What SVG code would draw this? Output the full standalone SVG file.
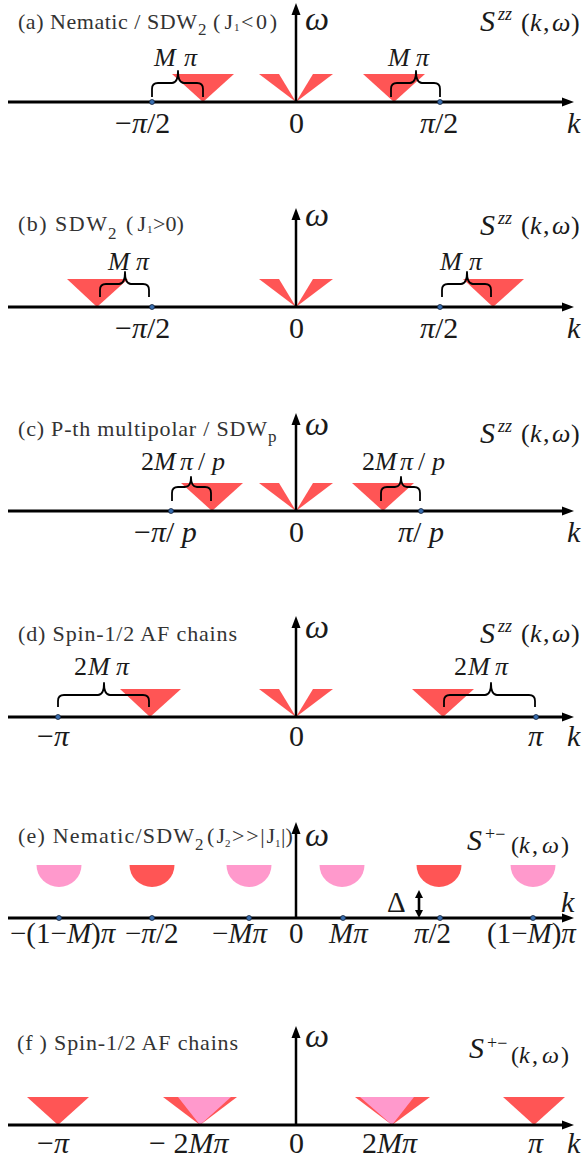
<svg xmlns="http://www.w3.org/2000/svg" width="583" height="1158" viewBox="0 0 583 1158">
<style>
.ax{stroke:#000;stroke-width:2.8;fill:none}
.vx{stroke:#000;stroke-width:2.5;fill:none}
.r{fill:#ff5555}
.p{fill:#ff99cc}
.dot{fill:#3a6fb0;stroke:#10203a;stroke-width:0.8}
.br{fill:none;stroke:#000;stroke-width:1.8;stroke-linejoin:round}
text{font-family:"Liberation Serif","Times New Roman",serif;fill:#1a1a1a}
.ti{font-size:22px;fill:#333}
.sb{font-size:17px;fill:#333}
.sb2{font-size:11px;fill:#333}
.i{font-style:italic}
.w{font-size:34px;font-style:italic}
.S{font-size:30px;font-style:italic}
.sup{font-size:18px;font-style:italic}
.pm{font-size:18px}
.kw{font-size:26px}
.kw2{font-size:24px}
.lab{font-size:26px}
.tk{font-size:30px}
.tk2{font-size:29px}
</style>
<defs>
<marker id="arr" viewBox="0 0 12 10" markerWidth="12" markerHeight="10" refX="3" refY="5" orient="auto" markerUnits="userSpaceOnUse"><path d="M0,0.5 L12,5 L0,9.5 Z" fill="#000"/></marker>
<marker id="arr2" viewBox="0 0 8 8" markerWidth="8" markerHeight="8" refX="2" refY="4" orient="auto-start-reverse" markerUnits="userSpaceOnUse"><path d="M0,0 L8,4 L0,8 Z" fill="#000"/></marker>
</defs>

<!-- Panel (a) -->
<g id="panel-a">
<polygon class="r" points="259,74 279,74 296,102"/>
<polygon class="r" points="313,74 333,74 296,102"/>
<polygon class="r" points="172,74 234,74 203,102"/>
<polygon class="r" points="363,74 425,74 394,102"/>
<line class="ax" x1="8" y1="102" x2="565" y2="102" marker-end="url(#arr)"/>
<line class="vx" x1="296" y1="102" x2="296" y2="12" marker-end="url(#arr)"/>
<path class="br" d="M152,97 L152,89 Q152,83 158,83 L172,83 Q178,83 178,71 Q178,83 184,83 L197,83 Q203,83 203,89 L203,97"/>
<path class="br" d="M391,97 L391,89 Q391,83 397,83 L410,83 Q416,83 416,71 Q416,83 422,83 L434,83 Q440,83 440,89 L440,97"/>
<circle class="dot" cx="152" cy="102" r="2.5"/>
<circle class="dot" cx="440" cy="102" r="2.5"/>
<text class="ti" x="18" y="29" textLength="179">(a) Nematic / SDW</text>
<text class="sb" x="198" y="35">2</text>
<text class="ti" x="213" y="29" textLength="20">(J</text>
<text class="sb2" x="234" y="31">1</text>
<text class="ti" x="241" y="29" textLength="36">&lt;0)</text>
<text class="w" x="305" y="30">ω</text>
<text class="S" x="480" y="31">S</text>
<text class="sup" x="498" y="20">zz</text>
<text class="kw" y="31"><tspan x="521">(</tspan><tspan x="530" class="i">k</tspan><tspan x="543">,</tspan><tspan x="552" class="i">ω</tspan><tspan x="571">)</tspan></text>
<text class="lab i" y="66"><tspan x="154">M</tspan><tspan x="184">π</tspan></text>
<text class="lab i" y="66"><tspan x="388">M</tspan><tspan x="416">π</tspan></text>
<text class="tk" x="115" y="133">−<tspan class="i">π</tspan>/2</text>
<text class="tk" x="289" y="133">0</text>
<text class="tk" x="420" y="133"><tspan class="i">π</tspan>/2</text>
<text class="tk i" x="567" y="133">k</text>
</g>

<!-- Panel (b) -->
<g id="panel-b">
<polygon class="r" points="259,279 279,279 296,307"/>
<polygon class="r" points="313,279 333,279 296,307"/>
<polygon class="r" points="67,279 128,279 97,307"/>
<polygon class="r" points="463,279 524,279 493,307"/>
<line class="ax" x1="8" y1="307" x2="565" y2="307" marker-end="url(#arr)"/>
<line class="vx" x1="296" y1="307" x2="296" y2="217" marker-end="url(#arr)"/>
<path class="br" d="M100,297 L100,290 Q100,284 106,284 L119,284 Q125,284 125,272 Q125,284 131,284 L143,284 Q149,284 149,290 L149,297"/>
<path class="br" d="M442,297 L442,290 Q442,284 448,284 L461,284 Q467,284 467,272 Q467,284 473,284 L485,284 Q491,284 491,290 L491,297"/>
<circle class="dot" cx="152" cy="307" r="2.5"/>
<circle class="dot" cx="440" cy="307" r="2.5"/>
<text class="ti" x="18" y="231" textLength="89">(b) SDW</text>
<text class="sb" x="108" y="239">2</text>
<text class="ti" x="126" y="231" textLength="20">(J</text>
<text class="sb2" x="147" y="233">1</text>
<text class="ti" x="153" y="231">&gt;0)</text>
<text class="w" x="305" y="226">ω</text>
<text class="S" x="480" y="235">S</text>
<text class="sup" x="498" y="224">zz</text>
<text class="kw" y="234"><tspan x="521">(</tspan><tspan x="530" class="i">k</tspan><tspan x="543">,</tspan><tspan x="552" class="i">ω</tspan><tspan x="571">)</tspan></text>
<text class="lab i" y="270"><tspan x="108">M</tspan><tspan x="136">π</tspan></text>
<text class="lab i" y="270"><tspan x="440">M</tspan><tspan x="469">π</tspan></text>
<text class="tk" x="115" y="338">−<tspan class="i">π</tspan>/2</text>
<text class="tk" x="289" y="338">0</text>
<text class="tk" x="420" y="338"><tspan class="i">π</tspan>/2</text>
<text class="tk i" x="567" y="338">k</text>
</g>

<!-- Panel (c) -->
<g id="panel-c">
<polygon class="r" points="259,483 279,483 296,511"/>
<polygon class="r" points="313,483 333,483 296,511"/>
<polygon class="r" points="181,483 243,483 212,511"/>
<polygon class="r" points="352,483 414,483 383,511"/>
<line class="ax" x1="8" y1="511" x2="565" y2="511" marker-end="url(#arr)"/>
<line class="vx" x1="296" y1="511" x2="296" y2="422" marker-end="url(#arr)"/>
<path class="br" d="M172,501 L172,493 Q172,487 178,487 L185,487 Q191,487 191,477 Q191,487 197,487 L205,487 Q211,487 211,493 L211,501"/>
<path class="br" d="M381,501 L381,493 Q381,487 387,487 L395,487 Q401,487 401,477 Q401,487 407,487 L414,487 Q420,487 420,493 L420,501"/>
<circle class="dot" cx="171" cy="511" r="2.5"/>
<circle class="dot" cx="421" cy="511" r="2.5"/>
<text class="ti" x="18" y="436" textLength="249">(c) P-th multipolar / SDW</text>
<text class="sb" x="268" y="442">p</text>
<text class="w" x="305" y="435">ω</text>
<text class="S" x="480" y="443">S</text>
<text class="sup" x="498" y="432">zz</text>
<text class="kw" y="442"><tspan x="521">(</tspan><tspan x="530" class="i">k</tspan><tspan x="543">,</tspan><tspan x="552" class="i">ω</tspan><tspan x="571">)</tspan></text>
<text class="lab" y="470"><tspan x="141">2</tspan><tspan x="154" class="i">M</tspan><tspan x="180" class="i">π</tspan><tspan x="198">/</tspan><tspan x="212" class="i">p</tspan></text>
<text class="lab" y="470"><tspan x="362">2</tspan><tspan x="375" class="i">M</tspan><tspan x="400" class="i">π</tspan><tspan x="418">/</tspan><tspan x="432" class="i">p</tspan></text>
<text class="tk" x="134" y="542">−<tspan class="i">π</tspan>/ <tspan class="i">p</tspan></text>
<text class="tk" x="289" y="542">0</text>
<text class="tk" x="398" y="542"><tspan class="i">π</tspan>/ <tspan class="i">p</tspan></text>
<text class="tk i" x="567" y="542">k</text>
</g>

<!-- Panel (d) -->
<g id="panel-d">
<polygon class="r" points="259,689 279,689 296,717"/>
<polygon class="r" points="313,689 333,689 296,717"/>
<polygon class="r" points="120,689 181,689 150,717"/>
<polygon class="r" points="412,689 474,689 443,717"/>
<line class="ax" x1="8" y1="717" x2="565" y2="717" marker-end="url(#arr)"/>
<line class="vx" x1="296" y1="717" x2="296" y2="625" marker-end="url(#arr)"/>
<path class="br" d="M58,707 L58,701 Q58,695 64,695 L98,695 Q104,695 104,683 Q104,695 110,695 L143,695 Q149,695 149,701 L149,707"/>
<path class="br" d="M444,707 L444,701 Q444,695 450,695 L485,695 Q491,695 491,683 Q491,695 497,695 L529,695 Q535,695 535,701 L535,707"/>
<circle class="dot" cx="58" cy="717" r="2.5"/>
<circle class="dot" cx="536" cy="717" r="2.5"/>
<text class="ti" x="18" y="641" textLength="219">(d) Spin-1/2 AF chains</text>
<text class="w" x="305" y="638">ω</text>
<text class="S" x="480" y="643">S</text>
<text class="sup" x="498" y="632">zz</text>
<text class="kw" y="642"><tspan x="521">(</tspan><tspan x="530" class="i">k</tspan><tspan x="543">,</tspan><tspan x="552" class="i">ω</tspan><tspan x="571">)</tspan></text>
<text class="lab" y="675"><tspan x="74">2</tspan><tspan x="88" class="i">M</tspan><tspan x="116" class="i">π</tspan></text>
<text class="lab" y="675"><tspan x="454">2</tspan><tspan x="468" class="i">M</tspan><tspan x="495" class="i">π</tspan></text>
<text class="tk" x="37" y="746">−<tspan class="i">π</tspan></text>
<text class="tk" x="289" y="746">0</text>
<text class="tk i" x="528" y="746">π</text>
<text class="tk i" x="567" y="746">k</text>
</g>

<!-- Panel (e) -->
<g id="panel-e">
<path class="p" d="M36.5,865 A22.5,22 0 0 0 81.5,865 Z"/>
<path class="r" d="M129.5,865 A22.5,22 0 0 0 174.5,865 Z"/>
<path class="p" d="M226.5,865 A22.5,22 0 0 0 271.5,865 Z"/>
<path class="p" d="M319.5,865 A22.5,22 0 0 0 364.5,865 Z"/>
<path class="r" d="M416.5,865 A22.5,22 0 0 0 461.5,865 Z"/>
<path class="p" d="M510.5,865 A22.5,22 0 0 0 555.5,865 Z"/>
<line class="ax" x1="8" y1="918" x2="565" y2="918" marker-end="url(#arr)"/>
<line class="vx" x1="296" y1="918" x2="296" y2="831" marker-end="url(#arr)"/>
<line x1="419" y1="896" x2="419" y2="912" stroke="#000" stroke-width="2.6" marker-start="url(#arr2)" marker-end="url(#arr2)"/>
<circle class="dot" cx="59" cy="918" r="2.5"/>
<circle class="dot" cx="152" cy="918" r="2.5"/>
<circle class="dot" cx="249" cy="918" r="2.5"/>
<circle class="dot" cx="343" cy="918" r="2.5"/>
<circle class="dot" cx="440" cy="918" r="2.5"/>
<circle class="dot" cx="533" cy="918" r="2.5"/>
<text class="ti" x="18" y="843" textLength="176">(e) Nematic/SDW</text>
<text class="sb" x="195" y="850">2</text>
<text class="ti" x="207" y="843" textLength="18">(J</text>
<text class="sb2" x="225" y="847">2</text>
<text class="ti" x="232" y="843" textLength="43">&gt;&gt;|J</text>
<text class="sb2" x="275" y="847">1</text>
<text class="ti" x="281" y="843">|)</text>
<text class="w" x="305" y="846">ω</text>
<text class="S" x="467" y="850">S</text>
<text class="pm" x="485" y="840">+−</text>
<text class="kw2" y="853"><tspan x="511">(</tspan><tspan x="519" class="i">k</tspan><tspan x="532">,</tspan><tspan x="542" class="i">ω</tspan><tspan x="561">)</tspan></text>
<text class="tk2" x="387" y="912">Δ</text>
<text class="tk i" x="561" y="912">k</text>
<text class="tk2" x="10" y="943">−(1−<tspan class="i">M</tspan>)<tspan class="i">π</tspan></text>
<text class="tk2" x="125" y="943">−<tspan class="i">π</tspan>/2</text>
<text class="tk2" x="212" y="943">−<tspan class="i">M</tspan><tspan class="i">π</tspan></text>
<text class="tk2" x="289" y="943">0</text>
<text class="tk2" x="329" y="943"><tspan class="i">M</tspan><tspan class="i">π</tspan></text>
<text class="tk2" x="414" y="943"><tspan class="i">π</tspan>/2</text>
<text class="tk2" x="487" y="943">(1−<tspan class="i">M</tspan>)<tspan class="i">π</tspan></text>
</g>

<!-- Panel (f) -->
<g id="panel-f">
<polygon class="r" points="27,1097 89,1097 58,1125"/>
<polygon class="r" points="163,1097 237,1097 200,1125"/>
<polygon class="p" points="178,1097 231,1097 200,1125"/>
<polygon class="r" points="355,1097 430,1097 392,1125"/>
<polygon class="p" points="360,1097 414,1097 392,1125"/>
<polygon class="r" points="503,1097 565,1097 534,1125"/>
<line class="ax" x1="8" y1="1125" x2="565" y2="1125" marker-end="url(#arr)"/>
<line class="vx" x1="296" y1="1125" x2="296" y2="1035" marker-end="url(#arr)"/>
<text class="ti" x="17" y="1050" textLength="221">(f ) Spin-1/2 AF chains</text>
<text class="w" x="305" y="1047">ω</text>
<text class="S" x="469" y="1058">S</text>
<text class="pm" x="487" y="1049">+−</text>
<text class="kw2" y="1063"><tspan x="511">(</tspan><tspan x="519" class="i">k</tspan><tspan x="532">,</tspan><tspan x="542" class="i">ω</tspan><tspan x="561">)</tspan></text>
<text class="tk" x="37" y="1153">−<tspan class="i">π</tspan></text>
<text class="tk" x="149" y="1153">− 2<tspan class="i">M</tspan><tspan class="i">π</tspan></text>
<text class="tk" x="289" y="1153">0</text>
<text class="tk" x="362" y="1153">2<tspan class="i">M</tspan><tspan class="i">π</tspan></text>
<text class="tk i" x="528" y="1153">π</text>
<text class="tk i" x="567" y="1153">k</text>
</g>
</svg>
